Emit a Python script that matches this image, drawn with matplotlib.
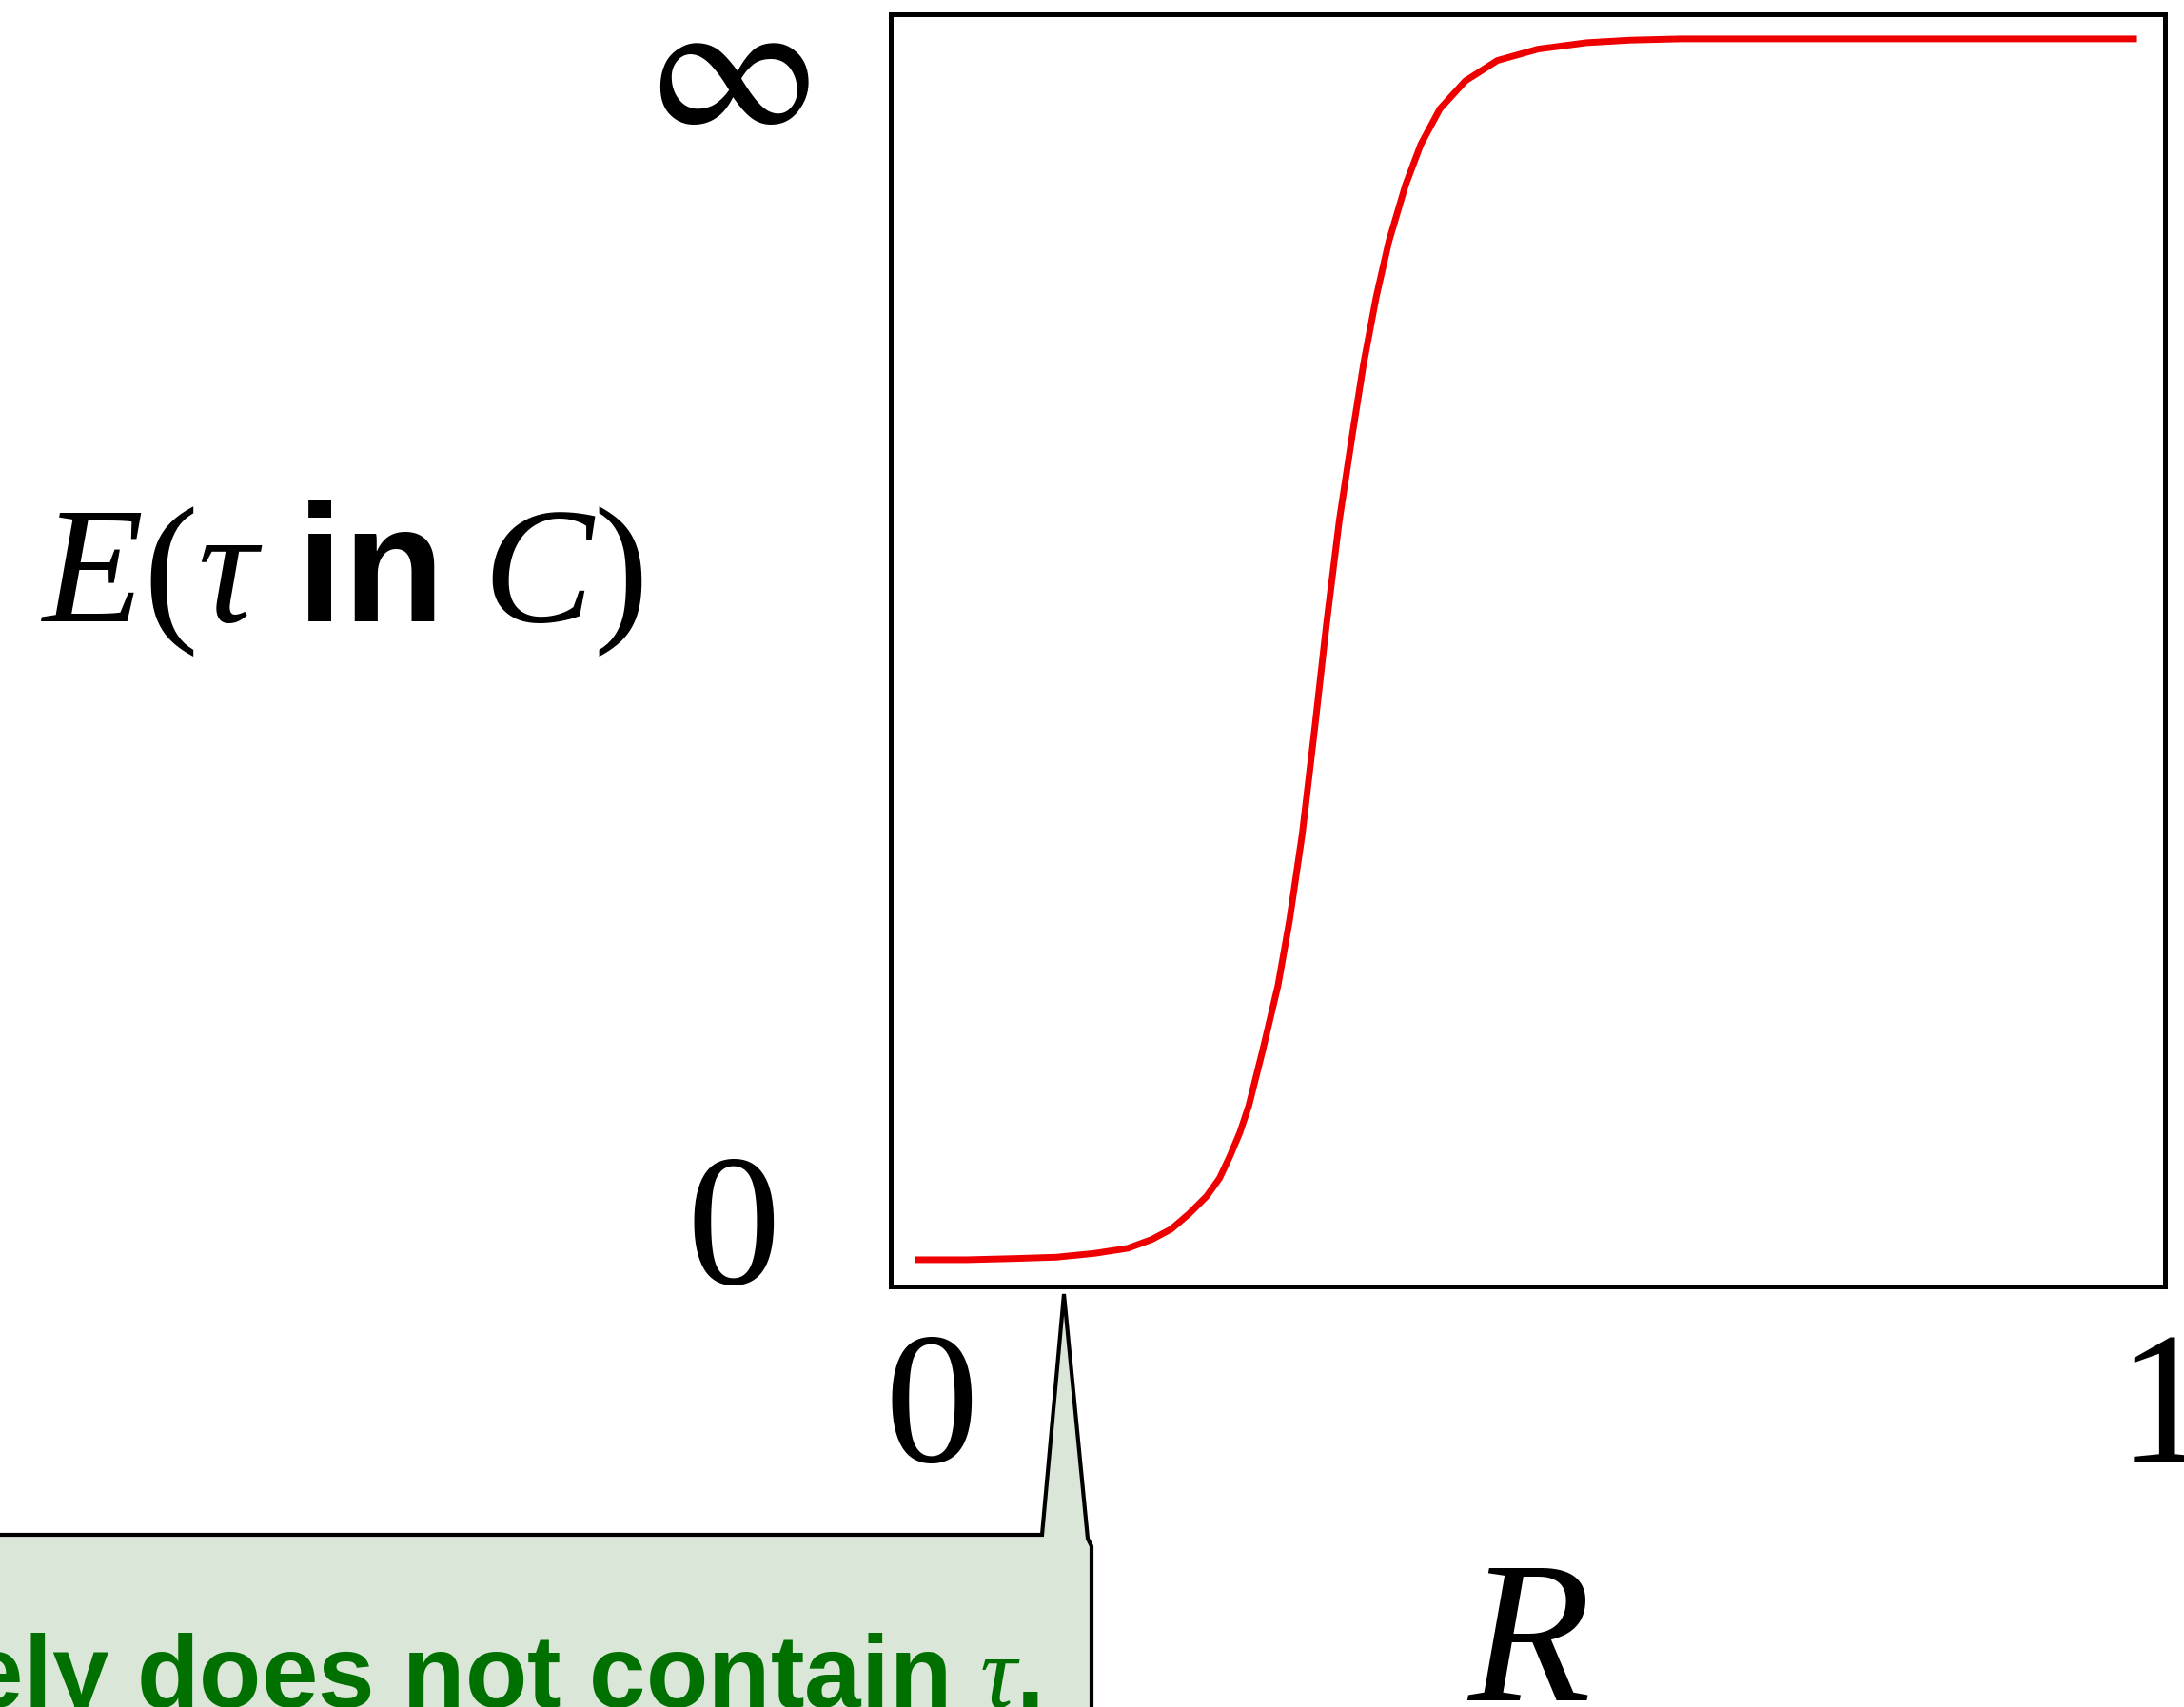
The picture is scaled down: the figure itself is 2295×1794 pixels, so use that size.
import matplotlib
matplotlib.use("Agg")
import matplotlib.pyplot as plt
from matplotlib.patches import Polygon

plt.rcParams['mathtext.fontset'] = 'custom'
plt.rcParams['mathtext.rm'] = 'Liberation Serif'
plt.rcParams['mathtext.it'] = 'Liberation Serif:italic'
plt.rcParams['mathtext.bf'] = 'Liberation Sans:bold'

# curve (R in 0..1, E scaled 0..1 on the axis)
R = [0.019, 0.060, 0.099, 0.130, 0.160, 0.186, 0.205, 0.220, 0.234, 0.248,
     0.258, 0.266, 0.274, 0.281, 0.292, 0.304, 0.313, 0.323, 0.333, 0.342,
     0.352, 0.362, 0.371, 0.381, 0.391, 0.404, 0.416, 0.431, 0.451, 0.476,
     0.508, 0.546, 0.580, 0.620, 0.683, 0.978]
E = [0.021, 0.021, 0.022, 0.023, 0.026, 0.030, 0.037, 0.045, 0.057, 0.071,
     0.085, 0.102, 0.121, 0.142, 0.186, 0.237, 0.288, 0.356, 0.441, 0.521,
     0.602, 0.668, 0.725, 0.778, 0.822, 0.866, 0.898, 0.926, 0.948, 0.964,
     0.973, 0.978, 0.980, 0.981, 0.981, 0.981]

x_tick_labels = ['0', '1']
y_tick_labels = ['0', r'$\infty$']
y_label = r'$E(\tau\ \mathbf{in}\ C)$'
x_label = r'$R$'
note = r'likely does not contain $\tau$.'

W, H = 2295, 1794
fig = plt.figure(figsize=(W / 100, H / 100), dpi=100)


def fx(px):
    return px / W


def fy(py):
    return 1 - py / H


ax = fig.add_axes([fx(936), fy(1352), fx(2275) - fx(936), fy(15.5) - fy(1352)])
ax.plot(R, E, color='#ee0000', lw=5, solid_capstyle='butt',
        solid_joinstyle='round')
ax.set_xlim(0, 1)
ax.set_ylim(0, 1)
ax.set_xticks([])
ax.set_yticks([])
for s in ax.spines.values():
    s.set_linewidth(3.6)

serif = ['Liberation Serif', 'DejaVu Serif']

# tick labels
fig.text(fx(979), fy(1536), x_tick_labels[0], family=serif, fontsize=142,
         ha='center', va='baseline')
fig.text(fx(2225), fy(1536), x_tick_labels[1], family=serif, fontsize=142,
         ha='left', va='baseline')
fig.text(fx(771), fy(1349), y_tick_labels[0], family=serif, fontsize=142,
         ha='center', va='baseline')
fig.text(fx(765), fy(76), y_tick_labels[1], math_fontfamily='stix',
         fontsize=143, ha='center', va='center')

# axis labels
fig.text(fx(42), fy(653), y_label, fontsize=125, ha='left', va='baseline')
fig.text(fx(1605), fy(1787), x_label, fontsize=152, ha='center', va='baseline')

# callout box
pts = [(-20, 1613), (1095, 1613), (1118, 1360), (1143, 1617), (1147, 1625),
       (1147, 1820), (-20, 1820)]
poly = Polygon([(fx(a), fy(b)) for a, b in pts], closed=True,
               facecolor='#dae6d7', edgecolor='black', lw=3.0,
               transform=fig.transFigure, joinstyle='miter')
fig.patches.append(poly)
fig.text(fx(1092), fy(1794), note, family='Liberation Sans', weight='bold',
         color='#007000', fontsize=77, ha='right', va='baseline')

fig.savefig('out.png', dpi=100)
